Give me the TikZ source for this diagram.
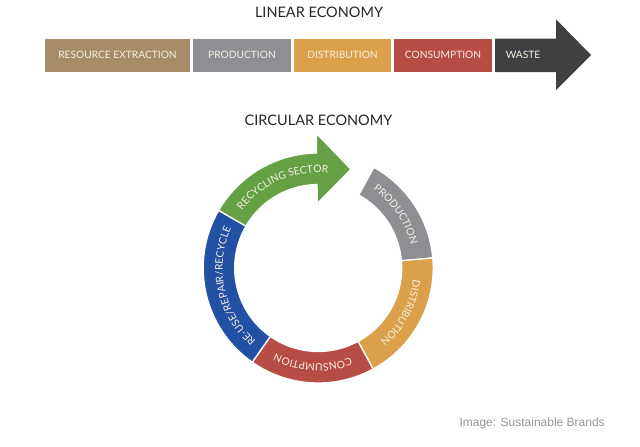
\documentclass[tikz,border=0pt]{standalone}
\usepackage{fontspec}
\setmainfont{Lato}
\newfontfamily\capfont{Liberation Sans}
\usetikzlibrary{decorations.text}
\definecolor{ctan}{RGB}{166,141,103}
\definecolor{cgray}{RGB}{142,142,147}
\definecolor{corange}{RGB}{218,160,74}
\definecolor{cred}{RGB}{183,76,69}
\definecolor{cdark}{RGB}{64,64,67}
\definecolor{cgreen}{RGB}{101,160,69}
\definecolor{cblue}{RGB}{34,80,163}
\definecolor{clbl}{RGB}{247,240,228}
\definecolor{ctitle}{RGB}{40,40,40}
\definecolor{ccap}{RGB}{150,150,150}
\newcommand\lblfont{\fontsize{10.3}{12}\selectfont\color{clbl}}
\begin{document}
\begin{tikzpicture}[x=1pt,y=1pt,
  box/.style={rectangle, inner sep=0pt, minimum height=33.5pt, text=clbl, font=\fontsize{10.2}{12}\selectfont},
  title/.style={anchor=base, text=ctitle, font=\fontsize{14.5}{16}\selectfont},
  seg/.style={draw=white, line width=1.3pt},
  lbl/.style={decorate, decoration={text along path, text align=center, text={|\lblfont|#1}}}
]
\useasboundingbox[fill=white] (0,0) rectangle (640,-447);

% Linear economy
\node[title] (lt) at (319,-17) {LINEAR ECONOMY};
\node[box, fill=ctan, minimum width=145pt] (b1) at (117.5,-55.25) {RESOURCE EXTRACTION};
\node[box, fill=cgray, minimum width=98pt] (b2) at (242,-55.25) {PRODUCTION};
\node[box, fill=corange, minimum width=97pt] (b3) at (342.5,-55.25) {DISTRIBUTION};
\node[box, fill=cred, minimum width=98pt] (b4) at (443,-55.25) {CONSUMPTION};
\fill[cdark] (495,-38.5) -- (556,-38.5) -- (556,-19.3) -- (591,-55) -- (556,-90) -- (556,-72) -- (495,-72) -- cycle;
\node[text=clbl, font=\fontsize{10.2}{12}\selectfont] (b5) at (523,-55.25) {WASTE};

% Circular economy
\node[title] (ct) at (318.5,-125) {CIRCULAR ECONOMY};
\begin{scope}[shift={(318.2,-268)}]
  \fill[cgreen, seg] (150:115pt) arc[start angle=150, end angle=90.8, radius=115pt]
     -- (90.8:134.7pt) -- (71.6:104pt) -- (90.8:64.7pt) -- (90.8:83.5pt)
     arc[start angle=90.8, end angle=150, radius=83.5pt] -- cycle;
  \fill[cgray, seg] (61:115pt) arc[start angle=61, end angle=5, radius=115pt]
     -- (5:83.5pt) arc[start angle=5, end angle=61, radius=83.5pt] -- cycle;
  \fill[corange, seg] (5:115pt) arc[start angle=5, end angle=-61.5, radius=115pt]
     -- (-61.5:83.5pt) arc[start angle=-61.5, end angle=5, radius=83.5pt] -- cycle;
  \fill[cred, seg] (-61.5:115pt) arc[start angle=-61.5, end angle=-125, radius=115pt]
     -- (-125:83.5pt) arc[start angle=-125, end angle=-61.5, radius=83.5pt] -- cycle;
  \fill[cblue, seg] (-125:115pt) arc[start angle=-125, end angle=-210, radius=115pt]
     -- (-210:83.5pt) arc[start angle=-210, end angle=-125, radius=83.5pt] -- cycle;

  \path[lbl={RECYCLING SECTOR}] (150:95.5pt) arc[start angle=150, end angle=77, radius=95.5pt];
  \path[lbl={PRODUCTION}] (63:95.5pt) arc[start angle=63, end angle=6, radius=95.5pt];
  \path[lbl={DISTRIBUTION}] (5:95.5pt) arc[start angle=5, end angle=-61.5, radius=95.5pt];
  \path[lbl={CONSUMPTION}] (-61.5:95.5pt) arc[start angle=-61.5, end angle=-125, radius=95.5pt];
  \path[lbl={RE-USE/REPAIR/RECYCLE}] (-125:95.5pt) arc[start angle=-125, end angle=-210, radius=95.5pt];
\end{scope}

\node[anchor=base west, text=ccap, font=\capfont\fontsize{12}{14}\selectfont] (cap) at (456,-426) {Image: Sustainable Brands};
\end{tikzpicture}
\end{document}
